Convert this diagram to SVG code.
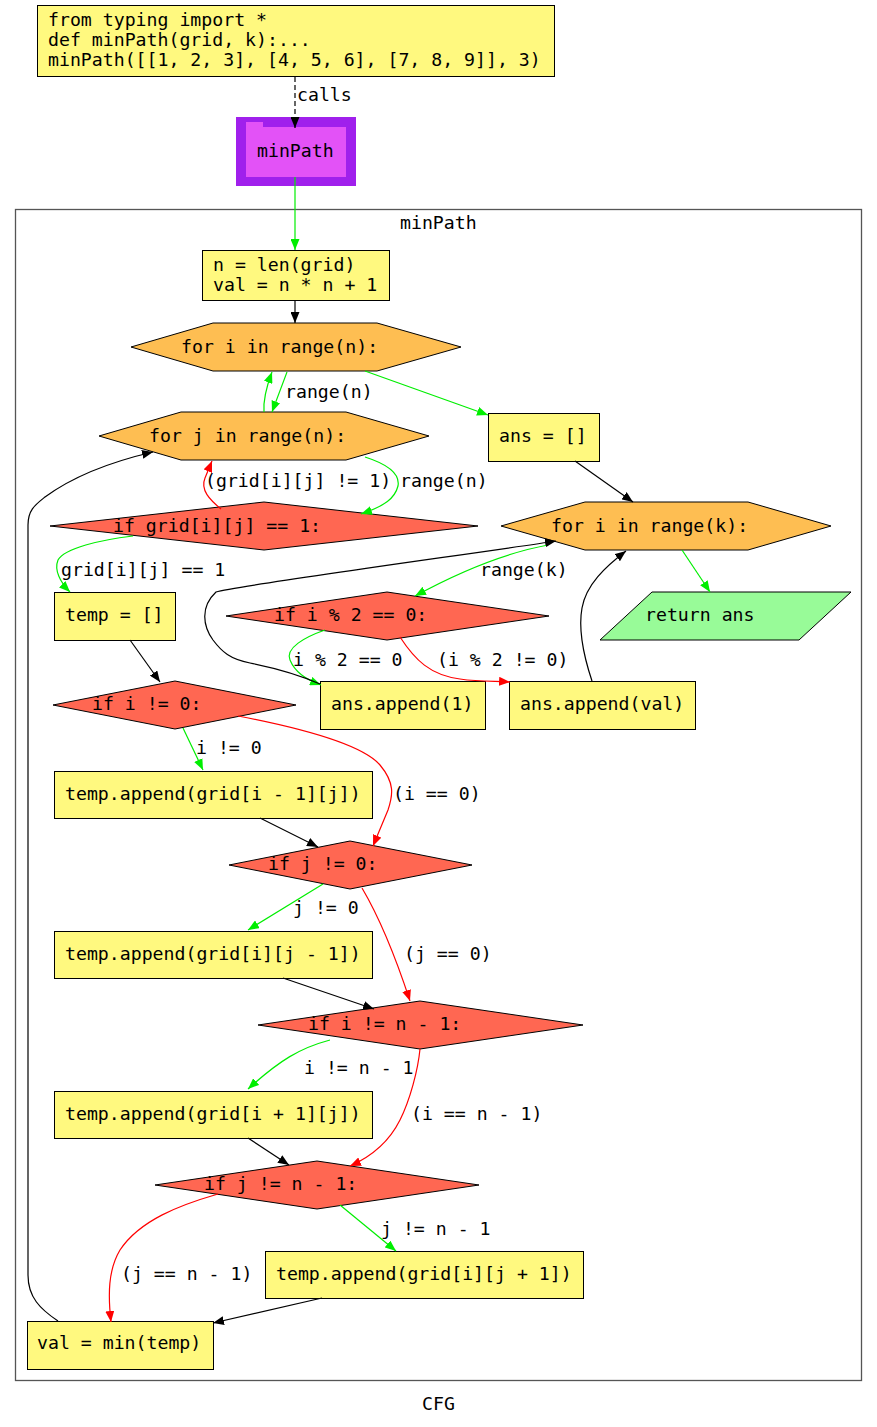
<svg xmlns="http://www.w3.org/2000/svg" width="877" height="1427" viewBox="0 0 877 1427">
  <style>
    text { font-family: "DejaVu Sans Mono", "Liberation Mono", monospace; font-size: 18.2px; fill: #000; }
    .box { fill: #fff97f; stroke: #000; stroke-width: 1; }
    .loop { fill: #febe52; stroke: #000; stroke-width: 1; }
    .cond { fill: #ff6752; stroke: #000; stroke-width: 1; }
    .ret { fill: #98fb98; stroke: #000; stroke-width: 1; }
    .e { fill: none; stroke-width: 1.2; }
    .k { stroke: #000; marker-end: url(#ak); }
    .g { stroke: #00ee00; marker-end: url(#ag); }
    .r { stroke: #ff0000; marker-end: url(#ar); }
  </style>
  <defs>
    <marker id="ak" markerUnits="userSpaceOnUse" markerWidth="12" markerHeight="9" refX="11" refY="4.5" orient="auto">
      <path d="M0,0 L11,4.5 L0,9 z" fill="#000"/>
    </marker>
    <marker id="ag" markerUnits="userSpaceOnUse" markerWidth="12" markerHeight="9" refX="11" refY="4.5" orient="auto">
      <path d="M0,0 L11,4.5 L0,9 z" fill="#00ee00"/>
    </marker>
    <marker id="ar" markerUnits="userSpaceOnUse" markerWidth="12" markerHeight="9" refX="11" refY="4.5" orient="auto">
      <path d="M0,0 L11,4.5 L0,9 z" fill="#ff0000"/>
    </marker>
  </defs>
  <rect width="877" height="1427" fill="#fff"/>

  <!-- function body cluster -->
  <g id="cluster_minPath">
    <rect x="15.5" y="209.5" width="846" height="1171" fill="none" stroke="#555" stroke-width="1.3"/>
    <text x="400" y="229">minPath</text>
  </g>

  <!-- nodes -->
  <g id="caller">
    <rect class="box" x="37.5" y="5.5" width="517" height="71"/>
    <text x="48" y="26">from typing import *</text>
    <text x="48" y="46">def minPath(grid, k):...</text>
    <text x="48" y="66">minPath([[1, 2, 3], [4, 5, 6], [7, 8, 9]], 3)</text>
  </g>
  <g id="fn_minPath">
    <rect x="236" y="117" width="120" height="69" fill="#a020ec"/>
    <path d="M246,122 L263,122 L263,127 L346,127 L346,177 L246,177 z" fill="#e352f7"/>
    <text x="257" y="157">minPath</text>
  </g>
  <g id="init">
    <rect class="box" x="202.5" y="250.5" width="187" height="50"/>
    <text x="213" y="271">n = len(grid)</text>
    <text x="213" y="291">val = n * n + 1</text>
  </g>
  <g id="for_i">
    <polygon class="loop" points="131,347 213,323 377,323 461,347 377,371 213,371"/>
    <text x="181" y="353">for i in range(n):</text>
  </g>
  <g id="for_j">
    <polygon class="loop" points="99,436 181,412 346,412 429,436 346,460 181,460"/>
    <text x="149" y="442">for j in range(n):</text>
  </g>
  <g id="ans_init">
    <rect class="box" x="488.5" y="413.5" width="111" height="48"/>
    <text x="499" y="442">ans = []</text>
  </g>
  <g id="if_grid">
    <polygon class="cond" points="50,526 264,502 478,526 264,550"/>
    <text x="113" y="532">if grid[i][j] == 1:</text>
  </g>
  <g id="for_k">
    <polygon class="loop" points="501,526 585,502 748,502 831,526 748,550 585,550"/>
    <text x="551" y="532">for i in range(k):</text>
  </g>
  <g id="return_ans">
    <polygon class="ret" points="600,640 652,592 851,592 799,640"/>
    <text x="645" y="621">return ans</text>
  </g>
  <g id="temp_init">
    <rect class="box" x="54.5" y="592.5" width="121" height="48"/>
    <text x="65" y="621">temp = []</text>
  </g>
  <g id="if_even">
    <polygon class="cond" points="226,616 387,592 549,616 387,640"/>
    <text x="274" y="621">if i % 2 == 0:</text>
  </g>
  <g id="if_i_nz">
    <polygon class="cond" points="53,705 175,681 296,705 175,729"/>
    <text x="92" y="710">if i != 0:</text>
  </g>
  <g id="append_one">
    <rect class="box" x="320.5" y="681.5" width="165" height="48"/>
    <text x="331" y="710">ans.append(1)</text>
  </g>
  <g id="append_val">
    <rect class="box" x="509.5" y="681.5" width="186" height="48"/>
    <text x="520" y="710">ans.append(val)</text>
  </g>
  <g id="up">
    <rect class="box" x="54.5" y="771.5" width="318" height="47"/>
    <text x="65" y="800">temp.append(grid[i - 1][j])</text>
  </g>
  <g id="if_j_nz">
    <polygon class="cond" points="229,865 350,841 472,865 350,889"/>
    <text x="268" y="870">if j != 0:</text>
  </g>
  <g id="left">
    <rect class="box" x="54.5" y="931.5" width="318" height="47"/>
    <text x="65" y="960">temp.append(grid[i][j - 1])</text>
  </g>
  <g id="if_i_last">
    <polygon class="cond" points="258,1025 420,1001 583,1025 420,1049"/>
    <text x="308" y="1030">if i != n - 1:</text>
  </g>
  <g id="down">
    <rect class="box" x="54.5" y="1091.5" width="318" height="47"/>
    <text x="65" y="1120">temp.append(grid[i + 1][j])</text>
  </g>
  <g id="if_j_last">
    <polygon class="cond" points="155,1185 317,1161 479,1185 317,1209"/>
    <text x="204" y="1190">if j != n - 1:</text>
  </g>
  <g id="right">
    <rect class="box" x="265.5" y="1251.5" width="318" height="47"/>
    <text x="276" y="1280">temp.append(grid[i][j + 1])</text>
  </g>
  <g id="val_min">
    <rect class="box" x="27.5" y="1321.5" width="186" height="48"/>
    <text x="37" y="1349">val = min(temp)</text>
  </g>

  <!-- connectors -->
  <g id="edges">
    <path class="e k" d="M295,77 L295,128" stroke-dasharray="5,3"/>
    <text x="297" y="101">calls</text>
    <path class="e g" d="M295,177 L295,250"/>
    <path class="e k" d="M295,301 L295,323"/>
    <!-- for i / for j -->
    <path class="e g" d="M264,412 C263,400 266,388 272,372"/>
    <path class="e g" d="M287,372 L272,412"/>
    <text x="285" y="398">range(n)</text>
    <path class="e g" d="M365,371 L488,415"/>
    <path class="e k" d="M575,461 L633,502"/>
    <path class="e g" d="M682,550 L710,592"/>
    <!-- for j / if grid -->
    <path class="e g" d="M365,457 C390,465 400,475 398,486 C395,498 385,506 361,514"/>
    <text x="400" y="487">range(n)</text>
    <path class="e r" d="M221,509 C210,500 200,490 205,478 L212,461"/>
    <text x="205" y="487">(grid[i][j] != 1)</text>
    <path class="e g" d="M133,536 C100,540 65,548 58,560 C54,570 60,582 70,592"/>
    <text x="61" y="576">grid[i][j] == 1</text>
    <!-- for k branch -->
    <path class="e g" d="M548,545 C510,552 470,566 415,596"/>
    <text x="480" y="576">range(k)</text>
    <path class="e g" d="M325,630 C305,637 285,648 290,660 C295,672 305,679 321,685"/>
    <text x="293" y="666">i % 2 == 0</text>
    <path class="e r" d="M400,637 C415,660 430,675 460,679 C480,682 495,681 510,682"/>
    <text x="437" y="666">(i % 2 != 0)</text>
    <path class="e k" d="M320,684 C295,673 270,667 250,663 C230,659 222,652 213,640 C203,626 200,607 216,592 C240,585 500,550 556,541"/>
    <path class="e k" d="M592,681 C585,660 578,630 582,608 C586,585 605,567 626,551"/>
    <!-- neighbour checks -->
    <path class="e k" d="M130,640 L160,682"/>
    <path class="e g" d="M183,728 L203,770"/>
    <text x="196" y="754">i != 0</text>
    <path class="e r" d="M238,716 C290,726 360,742 380,765 C395,783 393,795 388,810 L373,846"/>
    <text x="393" y="800">(i == 0)</text>
    <path class="e k" d="M260,818 L318,847"/>
    <path class="e g" d="M323,884 L248,930"/>
    <text x="293" y="914">j != 0</text>
    <path class="e r" d="M362,888 C375,910 390,940 410,1001"/>
    <text x="404" y="960">(j == 0)</text>
    <path class="e k" d="M283,978 L374,1009"/>
    <path class="e g" d="M330,1040 C300,1048 280,1060 248,1089"/>
    <text x="304" y="1074">i != n - 1</text>
    <path class="e r" d="M420,1049 C418,1070 410,1100 400,1120 C390,1140 375,1155 350,1166"/>
    <text x="411" y="1120">(i == n - 1)</text>
    <path class="e k" d="M248,1138 L289,1165"/>
    <path class="e g" d="M340,1205 L396,1251"/>
    <text x="381" y="1235">j != n - 1</text>
    <path class="e r" d="M218,1194 C180,1205 140,1220 120,1250 C108,1270 108,1295 111,1322"/>
    <text x="121" y="1280">(j == n - 1)</text>
    <path class="e k" d="M322,1298 L213,1323"/>
    <path class="e k" d="M58,1321 C40,1309 28,1297 28,1275 L28,525 C28,510 35,505 45,497 C75,475 110,462 153,452"/>
  </g>

  <text x="422" y="1410">CFG</text>
</svg>
